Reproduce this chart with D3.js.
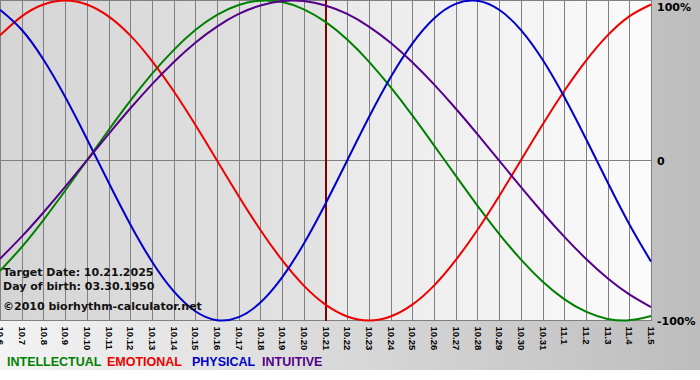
<!DOCTYPE html>
<html>
<head>
<meta charset="utf-8">
<script src="https://cdn.jsdelivr.net/npm/d3@7"></script>
<style>
html,body{margin:0;padding:0;background:#fff;}
svg{display:block;}
</style>
</head>
<body>
<svg id="chart" width="700" height="380"></svg>
<script>
const dateLabels = ["10.6","10.7","10.8","10.9","10.10","10.11","10.12","10.13","10.14","10.15","10.16","10.17","10.18","10.19","10.20","10.21","10.22","10.23","10.24","10.25","10.26","10.27","10.28","10.29","10.30","10.31","11.1","11.2","11.3","11.4","11.5"];
const physical = [0.942,0.817,0.631,0.398,0.136,-0.136,-0.398,-0.631,-0.817,-0.942,-0.998,-0.979,-0.888,-0.731,-0.520,-0.270,0,0.270,0.520,0.731,0.888,0.979,0.998,0.942,0.817,0.631,0.398,0.136,-0.136,-0.398,-0.631];
const emotional = [0.782,0.901,0.975,1.000,0.975,0.901,0.782,0.623,0.434,0.223,0,-0.223,-0.434,-0.623,-0.782,-0.901,-0.975,-1.000,-0.975,-0.901,-0.782,-0.623,-0.434,-0.223,0,0.223,0.434,0.623,0.782,0.901,0.975];
const intellectual = [-0.690,-0.541,-0.372,-0.189,0,0.189,0.372,0.541,0.690,0.815,0.910,0.972,0.999,0.990,0.945,0.866,0.756,0.618,0.458,0.282,0.095,-0.095,-0.282,-0.458,-0.618,-0.756,-0.866,-0.945,-0.990,-0.999,-0.972];
const intuitive = [-0.614,-0.476,-0.325,-0.165,0,0.165,0.325,0.476,0.614,0.736,0.837,0.916,0.969,0.997,0.997,0.969,0.916,0.837,0.736,0.614,0.476,0.325,0.165,0,-0.165,-0.325,-0.476,-0.614,-0.736,-0.837,-0.916];
const yTicks = [1, 0, -1];
const yTickLabels = ["100%", "0", "-100%"];
const targetIndex = 15;
const infoLines = ["Target Date: 10.21.2025", "Day of birth: 03.30.1950", "©2010 biorhythm-calculator.net"];
const legendNames = ["INTELLECTUAL", "EMOTIONAL", "PHYSICAL", "INTUITIVE"];

const colors = {INTELLECTUAL:"#008000", EMOTIONAL:"#ee0000", PHYSICAL:"#0000cc", INTUITIVE:"#55008a"};
const seriesList = [
  {name:"INTELLECTUAL", values:intellectual},
  {name:"EMOTIONAL", values:emotional},
  {name:"PHYSICAL", values:physical},
  {name:"INTUITIVE", values:intuitive}
];

const svg = d3.select("#chart");
const W = 700, H = 380;
const plotL = 0, plotR = 651, plotT = 0.5, plotB = 320.5;

const x = d3.scaleLinear().domain([0, dateLabels.length - 1]).range([plotL, plotR]);
const y = d3.scaleLinear().domain([-1, 1]).range([plotB, plotT]);

const defs = svg.append("defs");
const gOuter = defs.append("linearGradient").attr("id","gOuter").attr("x1","0").attr("x2","1").attr("y1","0").attr("y2","0");
gOuter.append("stop").attr("offset","0").attr("stop-color","#f3f3f3");
gOuter.append("stop").attr("offset","1").attr("stop-color","#bdbdbd");
const gLeft = defs.append("linearGradient").attr("id","gLeft").attr("x1","0").attr("x2","1").attr("y1","0").attr("y2","0");
gLeft.append("stop").attr("offset","0").attr("stop-color","#d5d5d5");
gLeft.append("stop").attr("offset","1").attr("stop-color","#e3e3e3");
const gRight = defs.append("linearGradient").attr("id","gRight").attr("x1","0").attr("x2","1").attr("y1","0").attr("y2","0");
gRight.append("stop").attr("offset","0").attr("stop-color","#e9e9e9");
gRight.append("stop").attr("offset","1").attr("stop-color","#fbfbfb");

svg.append("rect").attr("x",0).attr("y",0).attr("width",W).attr("height",H).attr("fill","#ffffff");
svg.append("rect").attr("x",0).attr("y",0).attr("width",W).attr("height",370).attr("fill","url(#gOuter)");

const xT = x(targetIndex);
svg.append("rect").attr("x", plotL).attr("y", 0).attr("width", xT - plotL).attr("height", 321).attr("fill","url(#gLeft)");
svg.append("rect").attr("x", xT).attr("y", 0).attr("width", plotR - xT).attr("height", 321).attr("fill","url(#gRight)");

// grid
const grid = svg.append("g").attr("stroke","#808080").attr("stroke-width",1);
grid.selectAll("line.v").data(d3.range(dateLabels.length)).enter().append("line")
  .attr("x1", d => Math.round(x(d)) + 0.5).attr("x2", d => Math.round(x(d)) + 0.5)
  .attr("y1", 0).attr("y2", 321);
grid.selectAll("line.h").data(yTicks).enter().append("line")
  .attr("x1", 0).attr("x2", Math.round(plotR) + 1)
  .attr("y1", d => y(d)).attr("y2", d => y(d));

// target line
svg.append("line").attr("x1", Math.round(xT)).attr("x2", Math.round(xT))
  .attr("y1", 0).attr("y2", 321).attr("stroke","#800000").attr("stroke-width",2);

// curves
const line = d3.line().x((d,i) => x(i)).y(d => y(d)).curve(d3.curveNatural);
svg.append("g").selectAll("path").data(seriesList).enter().append("path")
  .attr("d", d => line(d.values))
  .attr("fill","none")
  .attr("stroke", d => colors[d.name])
  .attr("stroke-width", 2);

// x axis labels
const xAxis = d3.axisBottom(x).tickValues(d3.range(dateLabels.length)).tickFormat(i => dateLabels[i]).tickSize(0).tickPadding(0);
const gx = svg.append("g").attr("transform", `translate(0,${plotB})`).call(xAxis);
gx.select(".domain").remove();
gx.selectAll("text")
  .attr("transform","rotate(90)")
  .attr("x", 6).attr("y", 0).attr("dy","0.35em")
  .attr("text-anchor","start")
  .attr("fill","#000")
  .style("font-family","'Liberation Sans', Arial, sans-serif")
  .style("font-weight","bold")
  .style("font-size","9.5px");

// y axis labels
const yAxis = d3.axisRight(y).tickValues(yTicks).tickFormat((d,i) => yTickLabels[i]).tickSize(0).tickPadding(6);
const gy = svg.append("g").attr("transform", `translate(${plotR},0)`).call(yAxis);
gy.select(".domain").remove();
gy.selectAll("text")
  .attr("fill","#000")
  .attr("y", d => d === 1 ? 6 : 0)
  .style("font-family","'DejaVu Sans', Verdana, sans-serif")
  .style("font-weight","bold")
  .style("font-size","11px");

// info text
const infoY = [276, 290, 310];
svg.append("g").selectAll("text").data(infoLines).enter().append("text")
  .attr("x", 3).attr("y", (d,i) => infoY[i])
  .text(d => d)
  .attr("fill","#111")
  .style("font-family","'DejaVu Sans', Verdana, sans-serif")
  .style("font-weight","bold")
  .style("font-size","11px");

// legend
const legendX = [7, 107, 192, 262];
svg.append("g").selectAll("text").data(legendNames).enter().append("text")
  .attr("x", (d,i) => legendX[i]).attr("y", 366)
  .text(d => d)
  .attr("fill", d => colors[d])
  .style("font-family","'Liberation Sans', Arial, sans-serif")
  .style("font-weight","bold")
  .style("font-size","12.5px");
</script>
</body>
</html>
